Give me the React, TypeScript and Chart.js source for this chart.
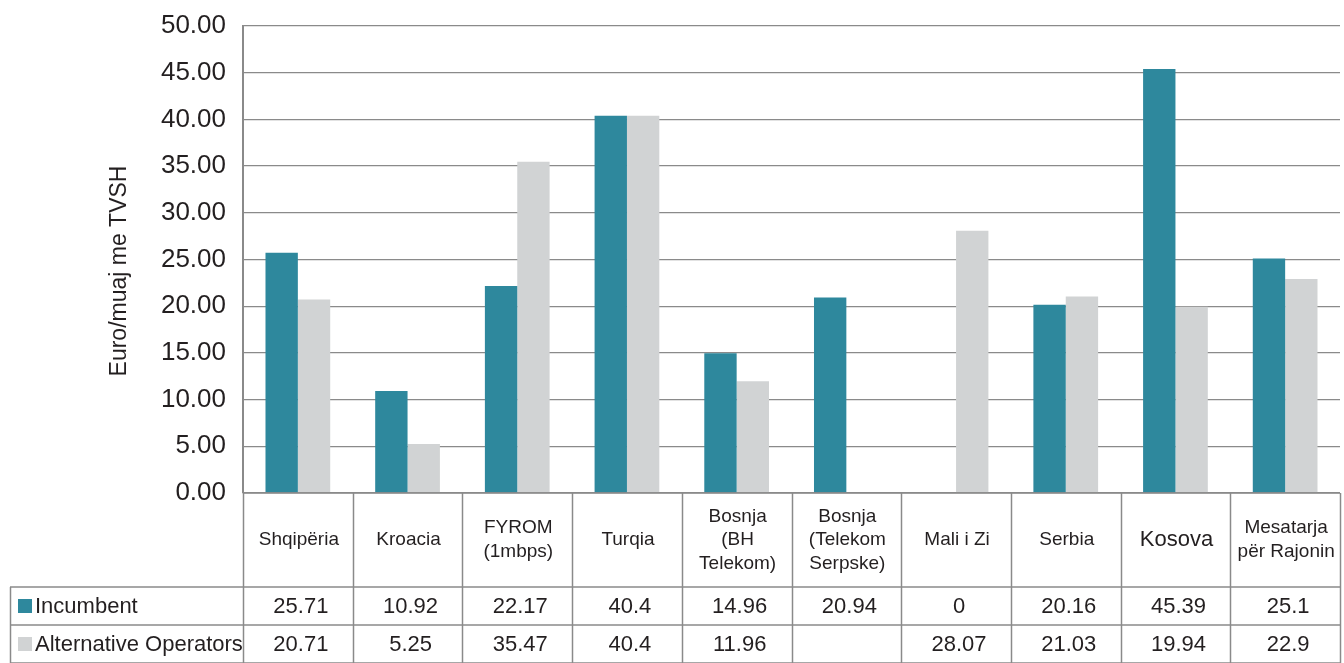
import React, { useEffect, useRef } from "react";
import { Chart, registerables } from "chart.js";

Chart.register(...registerables);

const categories: string[][] = [
  ["Shqipëria"],
  ["Kroacia"],
  ["FYROM", "(1mbps)"],
  ["Turqia"],
  ["Bosnja", "(BH", "Telekom)"],
  ["Bosnja", "(Telekom", "Serpske)"],
  ["Mali i Zi"],
  ["Serbia"],
  ["Kosova"],
  ["Mesatarja", "për Rajonin"],
];

const seriesNames = ["Incumbent", "Alternative Operators"];
const incumbent: (number | null)[] = [25.71, 10.92, 22.17, 40.4, 14.96, 20.94, 0, 20.16, 45.39, 25.1];
const alternative: (number | null)[] = [20.71, 5.25, 35.47, 40.4, 11.96, null, 28.07, 21.03, 19.94, 22.9];

const yTitle = "Euro/muaj me TVSH";
const yMin = 0;
const yMax = 50;
const yStep = 5;

const TEAL = "#2E889D";
const GRAY = "#D1D3D4";
const TEXT = "#231F20";
const LINE = "#8a8a8a";
const FONT = "'Liberation Sans', Arial, sans-serif";

const tablePlugin = {
  id: "dataTable",
  afterDraw(chart: any) {
    const ctx = chart.ctx as CanvasRenderingContext2D;
    const { left, right, bottom } = chart.chartArea;
    const xs = chart.scales.x;
    const n = categories.length;
    const colW = (right - left) / n;
    const catBottom = bottom + 94;
    const row1Bottom = catBottom + 38;
    const row2Bottom = row1Bottom + 38;
    const tableLeft = 10;

    const line = (x1: number, y1: number, x2: number, y2: number) => {
      ctx.beginPath();
      ctx.moveTo(x1, y1);
      ctx.lineTo(x2, y2);
      ctx.stroke();
    };

    ctx.save();
    // y axis title
    ctx.fillStyle = TEXT;
    ctx.font = `23px ${FONT}`;
    ctx.textAlign = "center";
    ctx.textBaseline = "middle";
    ctx.save();
    ctx.translate(120, 271);
    ctx.rotate(-Math.PI / 2);
    ctx.fillText(yTitle, 0, 0);
    ctx.restore();

    ctx.strokeStyle = LINE;
    ctx.lineWidth = 1.5;
    line(left, bottom, right, bottom);
    line(tableLeft, catBottom, right, catBottom);
    line(tableLeft, row1Bottom, right, row1Bottom);
    line(tableLeft, row2Bottom, right, row2Bottom);
    for (let i = 0; i <= n; i++) {
      const x = Math.round(left + i * colW) + 0.5;
      line(x, bottom, x, row2Bottom);
    }
    line(tableLeft + 0.5, catBottom, tableLeft + 0.5, row2Bottom);

    ctx.fillStyle = TEXT;
    ctx.textAlign = "center";
    ctx.textBaseline = "middle";
    const catCenter = bottom + 47;
    categories.forEach((lines, i) => {
      const cx = xs.getPixelForValue(i);
      const isKosova = lines[0] === "Kosova";
      ctx.font = `${isKosova ? 22 : 19}px ${FONT}`;
      const lh = 23.5;
      const startY = catCenter - ((lines.length - 1) * lh) / 2;
      lines.forEach((t, j) => ctx.fillText(t, cx + 1, startY + j * lh));
    });

    const rows = [
      { name: seriesNames[0], color: TEAL, values: incumbent, cy: catBottom + 19 },
      { name: seriesNames[1], color: GRAY, values: alternative, cy: row1Bottom + 19 },
    ];
    ctx.font = `22px ${FONT}`;
    rows.forEach((r) => {
      ctx.fillStyle = r.color;
      ctx.fillRect(18, r.cy - 7, 14, 14);
      ctx.fillStyle = TEXT;
      ctx.textAlign = "left";
      ctx.fillText(r.name, 35, r.cy + 1);
      ctx.textAlign = "center";
      r.values.forEach((v, i) => {
        if (v === null) return;
        ctx.fillText(String(v), xs.getPixelForValue(i) + 3, r.cy + 1);
      });
    });
    ctx.restore();
  },
};

export default function App() {
  const ref = useRef<HTMLCanvasElement | null>(null);
  useEffect(() => {
    if (!ref.current) return;
    const chart = new Chart(ref.current, {
      type: "bar",
      data: {
        labels: categories.map((c) => c.join(" ")),
        datasets: [
          { label: seriesNames[0], data: incumbent, backgroundColor: TEAL, borderWidth: 0 },
          { label: seriesNames[1], data: alternative, backgroundColor: GRAY, borderWidth: 0 },
        ],
      },
      options: {
        responsive: false,
        animation: false,
        layout: { padding: { left: 0, right: 4, top: 26, bottom: 162 } },
        datasets: { bar: { categoryPercentage: 0.59, barPercentage: 1.0 } },
        plugins: { legend: { display: false }, tooltip: { enabled: false } },
        scales: {
          x: {
            grid: { display: false },
            border: { display: false },
            ticks: { display: false },
          },
          y: {
            min: yMin,
            max: yMax,
            afterFit: (scale: any) => {
              scale.width = 243;
              scale.paddingTop = 0;
              scale.paddingBottom = 0;
            },
            ticks: {
              stepSize: yStep,
              padding: 17,
              color: TEXT,
              font: { family: FONT, size: 26 },
              callback: (v: any) => Number(v).toFixed(2),
            },
            grid: { color: LINE, lineWidth: 1.3, drawTicks: false },
            border: { display: true, color: LINE, width: 2 },
            title: { display: false },
          },
        },
      },
      plugins: [tablePlugin],
    });
    return () => chart.destroy();
  }, []);
  return (
    <div style={{ position: "absolute", left: 0, top: 0, width: 1344, height: 663, background: "#fff" }}>
      <canvas ref={ref} width={1344} height={663} />
    </div>
  );
}
